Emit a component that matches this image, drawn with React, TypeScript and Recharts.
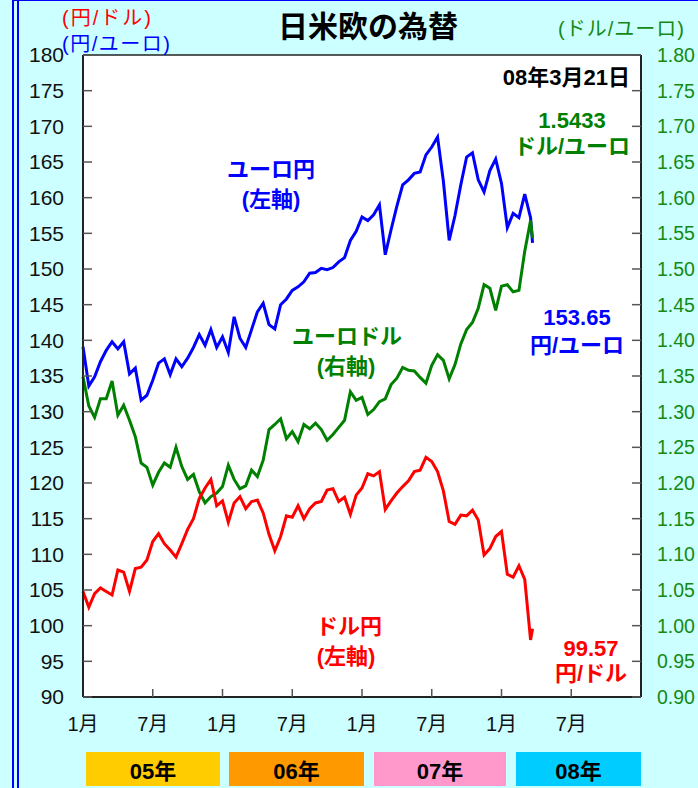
import React from "react";
import {
  LineChart,
  Line,
  XAxis,
  YAxis,
  CartesianGrid,
  ReferenceLine,
} from "recharts";

// months counted from Jan 2005, sampled every half month; last point is 08/3/21
const months = [
  0, 0.5, 1, 1.5, 2, 2.5, 3, 3.5, 4, 4.5, 5, 5.5, 6, 6.5, 7, 7.5, 8, 8.5, 9, 9.5,
  10, 10.5, 11, 11.5, 12, 12.5, 13, 13.5, 14, 14.5, 15, 15.5, 16, 16.5, 17, 17.5,
  18, 18.5, 19, 19.5, 20, 20.5, 21, 21.5, 22, 22.5, 23, 23.5, 24, 24.5, 25, 25.5,
  26, 26.5, 27, 27.5, 28, 28.5, 29, 29.5, 30, 30.5, 31, 31.5, 32, 32.5, 33, 33.5,
  34, 34.5, 35, 35.5, 36, 36.5, 37, 37.5, 38, 38.5, 38.67,
];

// 円/ユーロ (left axis)
const euroYen = [
  139.1, 133.6, 134.9, 137, 138.6, 139.8, 138.8, 139.8, 135.3, 136.1, 131.6, 132.3,
  134.4, 136.8, 137.4, 135.2, 137.4, 136.3, 137.5, 139, 140.8, 139.3, 141.5, 139,
  140.5, 138.3, 143.3, 140.3, 139, 141.5, 144, 145.2, 142.2, 141.6, 145, 145.8,
  147, 147.5, 148.2, 149.4, 149.5, 150.1, 149.9, 150.2, 151, 151.6, 154, 155.3,
  157.3, 156.8, 157.6, 159, 152, 155.5, 158.8, 161.8, 162.5, 163.4, 163.6, 166,
  167.1, 168.5, 162.3, 154, 157.5, 161.8, 165.7, 166.3, 162.5, 160.8, 163.8, 165.4,
  162, 155.8, 157.8, 157.2, 160.5, 157.2, 153.65,
];

// ドル/ユーロ (right axis)
const euroDollar = [
  1.349, 1.308, 1.292, 1.318, 1.318, 1.343, 1.295, 1.309, 1.288, 1.265, 1.228, 1.222,
  1.197, 1.215, 1.228, 1.222, 1.25, 1.223, 1.205, 1.212, 1.188, 1.172, 1.181, 1.186,
  1.195, 1.225, 1.205, 1.192, 1.196, 1.218, 1.209, 1.232, 1.275, 1.282, 1.29, 1.262,
  1.272, 1.258, 1.282, 1.276, 1.284, 1.275, 1.26, 1.268, 1.278, 1.288, 1.328, 1.316,
  1.32, 1.296, 1.303, 1.314, 1.318, 1.338, 1.347, 1.362, 1.358, 1.357, 1.348, 1.34,
  1.365, 1.38, 1.372, 1.346, 1.366, 1.395, 1.415, 1.425, 1.445, 1.478, 1.473, 1.442,
  1.476, 1.478, 1.468, 1.47, 1.525, 1.568, 1.5433,
];

// 円/ドル (left axis)
const dollarYen = [
  104.8, 102.6, 104.5, 105.3, 104.8, 104.3, 107.8, 107.5, 104.8, 108, 108.2, 109.2,
  111.8, 112.9, 111.5, 110.6, 109.6, 111.5, 113.5, 115, 117.8, 119.3, 120.5, 116.8,
  117.5, 114.5, 117.2, 118.1, 116.4, 117.4, 117.6, 115.8, 112.8, 110.5, 112.5, 115.4,
  115.2, 116.8, 115, 116.4, 117.2, 117.4, 119, 119.2, 117.4, 118, 115.6, 118.3,
  119.3, 121.3, 121, 121.6, 116.3, 117.5, 118.6, 119.5, 120.3, 121.6, 121.8, 123.6,
  123, 121.6, 118.9, 114.6, 114.2, 115.5, 115.4, 116.2, 114.8, 109.9, 110.8, 112.5,
  113.2, 107.2, 106.8, 108.4, 106.5, 98, 99.57,
];

const leftTicks = [90, 95, 100, 105, 110, 115, 120, 125, 130, 135, 140, 145, 150, 155, 160, 165, 170, 175, 180];
const rightTicks = [0.9, 0.95, 1.0, 1.05, 1.1, 1.15, 1.2, 1.25, 1.3, 1.35, 1.4, 1.45, 1.5, 1.55, 1.6, 1.65, 1.7, 1.75, 1.8];
const monthTicks = [0, 6, 12, 18, 24, 30, 36, 42];
const yearLabels = ["05年", "06年", "07年", "08年"];

const data = months.map((t, i) => ({
  t,
  euroYen: euroYen[i],
  euroDollar: euroDollar[i],
  dollarYen: dollarYen[i],
}));

const FONT = '"Liberation Sans", Arial, "Noto Sans CJK JP", sans-serif';

const Txt = ({
  x,
  y,
  children,
  color = "#000",
  size = 22,
  bold = true,
  align = "center",
  spacing = 0,
}: {
  x: number;
  y: number;
  children: React.ReactNode;
  color?: string;
  size?: number;
  bold?: boolean;
  align?: "center" | "left" | "right";
  spacing?: number;
}) => (
  <div
    style={{
      position: "absolute",
      left: x,
      top: y,
      transform:
        align === "center"
          ? "translate(-50%, -50%)"
          : align === "right"
          ? "translate(-100%, -50%)"
          : "translate(0, -50%)",
      color,
      fontSize: size,
      fontWeight: bold ? "bold" : "normal",
      lineHeight: 1,
      whiteSpace: "nowrap",
      letterSpacing: spacing,
      fontFamily: FONT,
    }}
  >
    {children}
  </div>
);

const App = () => {
  const boxes = [
    { left: 86, width: 134, bg: "#ffcc00" },
    { left: 229, width: 135, bg: "#ff9900" },
    { left: 374, width: 132, bg: "#ff99cc" },
    { left: 516, width: 125, bg: "#00ccff" },
  ];

  return (
    <div
      style={{
        position: "absolute",
        left: 0,
        top: 0,
        width: 698,
        height: 788,
        background: "#ccffff",
        overflow: "hidden",
        fontFamily: FONT,
      }}
    >
      {/* blue frame on the left / top */}
      <div style={{ position: "absolute", left: 12, top: 0, width: 2, height: 788, background: "#0000ff" }} />
      <div style={{ position: "absolute", left: 17, top: 0, width: 2, height: 788, background: "#0000ff" }} />
      <div style={{ position: "absolute", left: 12, top: 0, width: 686, height: 1, background: "#0000ff" }} />

      <LineChart
        width={698}
        height={788}
        data={data}
        margin={{ top: 55, right: 0, left: 0, bottom: 0 }}
        style={{ position: "absolute", left: 0, top: 0 }}
      >
        <CartesianGrid fill="#ffffff" horizontal={false} vertical={false} />
        <XAxis
          dataKey="t"
          type="number"
          domain={[0, 48]}
          ticks={monthTicks}
          height={91}
          tickSize={-8}
          tickMargin={28}
          interval={0}
          tickFormatter={(v: number) => (v % 12 === 0 ? "1月" : "7月")}
          axisLine={{ stroke: "#222", strokeWidth: 2 }}
          tickLine={{ stroke: "#555", strokeWidth: 1.5 }}
          tick={{ fill: "#111", fontSize: 20, fontFamily: FONT }}
        />
        <YAxis
          domain={[90, 180]}
          ticks={leftTicks}
          width={83}
          tickSize={-9}
          tickMargin={28}
          interval={0}
          axisLine={{ stroke: "#222", strokeWidth: 2 }}
          tickLine={{ stroke: "#555", strokeWidth: 1.5 }}
          tick={{ fill: "#111", fontSize: 21, fontFamily: FONT }}
        />
        <YAxis
          yAxisId="right"
          orientation="right"
          domain={[0.9, 1.8]}
          ticks={rightTicks}
          width={57}
          tickSize={-9}
          tickMargin={25}
          interval={0}
          tickFormatter={(v: number) => v.toFixed(2)}
          axisLine={{ stroke: "#222", strokeWidth: 2 }}
          tickLine={{ stroke: "#555", strokeWidth: 1.5 }}
          tick={{ fill: "#138a13", fontSize: 19.5, fontFamily: FONT }}
        />
        <ReferenceLine y={180} stroke="#222" strokeWidth={1.5} />
        <Line
          type="linear"
          dataKey="euroYen"
          stroke="#0000ff"
          strokeWidth={3}
          dot={false}
          isAnimationActive={false}
        />
        <Line
          type="linear"
          dataKey="euroDollar"
          yAxisId="right"
          stroke="#008000"
          strokeWidth={3}
          dot={false}
          isAnimationActive={false}
        />
        <Line
          type="linear"
          dataKey="dollarYen"
          stroke="#ff0000"
          strokeWidth={3}
          dot={false}
          isAnimationActive={false}
        />
      </LineChart>

      {/* title and axis units */}
      <Txt x={368} y={27} size={30}>日米欧の為替</Txt>
      <Txt x={62} y={18} size={20} bold={false} color="#ff0000" align="left" spacing={2}>(円/ドル)</Txt>
      <Txt x={62} y={44} size={20} bold={false} color="#0000ff" align="left" spacing={1.5}>(円/ユーロ)</Txt>
      <Txt x={558} y={29} size={20} bold={false} color="#138a13" align="left" spacing={1}>(ドル/ユーロ)</Txt>

      {/* annotations inside the plot */}
      <Txt x={630} y={78} size={22} align="right">08年3月21日</Txt>
      <Txt x={572} y={121} size={22} color="#008000">1.5433</Txt>
      <Txt x={572} y={147} size={22} color="#008000">ドル/ユーロ</Txt>
      <Txt x={271} y={170} size={22} color="#0000ff">ユーロ円</Txt>
      <Txt x={271} y={200} size={22} color="#0000ff">(左軸)</Txt>
      <Txt x={347} y={337} size={22} color="#008000">ユーロドル</Txt>
      <Txt x={346} y={367} size={22} color="#008000">(右軸)</Txt>
      <Txt x={577} y={318} size={22} color="#0000ff">153.65</Txt>
      <Txt x={577} y={346} size={22} color="#0000ff">円/ユーロ</Txt>
      <Txt x={349} y={627} size={22} color="#ff0000">ドル円</Txt>
      <Txt x={346} y={657} size={22} color="#ff0000">(左軸)</Txt>
      <Txt x={591} y={649} size={22} color="#ff0000">99.57</Txt>
      <Txt x={591} y={674} size={22} color="#ff0000">円/ドル</Txt>

      {/* year bands */}
      {yearLabels.map((label, i) => (
        <div
          key={label}
          style={{
            position: "absolute",
            left: boxes[i].left,
            top: 752,
            width: boxes[i].width,
            height: 34,
            background: boxes[i].bg,
            display: "flex",
            alignItems: "center",
            justifyContent: "center",
            fontSize: 22,
            fontWeight: "bold",
            color: "#000",
            fontFamily: FONT,
          }}
        >
          {label}
        </div>
      ))}
    </div>
  );
};

export default App;
